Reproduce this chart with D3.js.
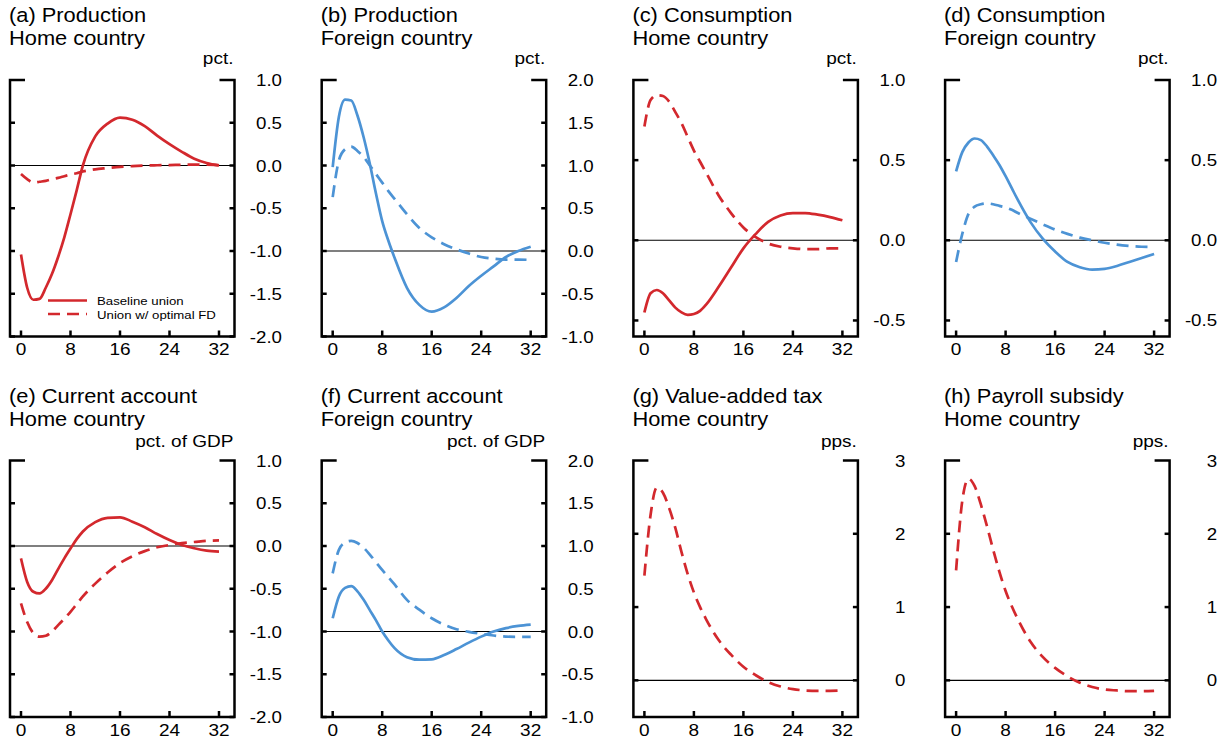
<!DOCTYPE html>
<html>
<head>
<meta charset="utf-8">
<script src="https://cdn.jsdelivr.net/npm/d3@7"></script>
<style>
  body { margin: 0; background: #fff; }
  text { font-family: "Liberation Sans", Arial, Helvetica, sans-serif; fill: #000; }
</style>
</head>
<body>
<div id="my_graphic"></div>
<script>
// quarters after the shock
const quarters = [0, 1, 2, 3, 4, 5, 6, 7, 8, 9, 10, 12, 14, 16, 18, 20, 22, 24, 26, 28, 30, 32];
const xTicks = [0, 8, 16, 24, 32];

// y tick labels
const ticksWide = [-2.0, -1.5, -1.0, -0.5, 0.0, 0.5, 1.0];
const ticksWideUp = [-1.0, -0.5, 0.0, 0.5, 1.0, 1.5, 2.0];
const ticksNarrow = [-0.5, 0.0, 0.5, 1.0];
const ticksPps = [0, 1, 2, 3];

// (a) production, home
const prodHomeBase = [-1.04, -1.43, -1.57, -1.56, -1.43, -1.27, -1.07, -0.84, -0.57, -0.29, 0.0, 0.34, 0.49, 0.56, 0.535, 0.46, 0.35, 0.25, 0.16, 0.08, 0.03, 0.0];
const prodHomeFD = [-0.10, -0.16, -0.20, -0.19, -0.18, -0.16, -0.145, -0.125, -0.105, -0.09, -0.07, -0.045, -0.03, -0.015, -0.008, 0.0, 0.003, 0.005, 0.008, 0.01, 0.01, 0.005];
// (b) production, foreign
const prodForBase = [0.98, 1.57, 1.77, 1.76, 1.585, 1.33, 1.02, 0.67, 0.35, 0.12, -0.08, -0.43, -0.63, -0.71, -0.66, -0.55, -0.41, -0.29, -0.18, -0.07, 0.0, 0.05];
const prodForFD = [0.63, 1.06, 1.19, 1.22, 1.17, 1.10, 1.0, 0.90, 0.80, 0.70, 0.61, 0.43, 0.27, 0.16, 0.08, 0.02, -0.03, -0.07, -0.09, -0.10, -0.10, -0.105];
// (c) consumption, home
const consHomeBase = [-0.45, -0.33, -0.31, -0.33, -0.375, -0.42, -0.45, -0.465, -0.46, -0.44, -0.40, -0.29, -0.17, -0.05, 0.04, 0.115, 0.155, 0.17, 0.17, 0.16, 0.145, 0.125];
const consHomeFD = [0.71, 0.875, 0.905, 0.90, 0.865, 0.80, 0.73, 0.645, 0.56, 0.49, 0.42, 0.28, 0.17, 0.08, 0.02, -0.02, -0.04, -0.05, -0.055, -0.055, -0.05, -0.05];
// (d) consumption, foreign
const consForBase = [0.43, 0.55, 0.61, 0.635, 0.625, 0.585, 0.53, 0.47, 0.40, 0.325, 0.25, 0.115, 0.01, -0.07, -0.135, -0.168, -0.183, -0.178, -0.16, -0.135, -0.11, -0.085];
const consForFD = [-0.135, 0.04, 0.165, 0.21, 0.225, 0.23, 0.225, 0.215, 0.205, 0.19, 0.17, 0.135, 0.10, 0.067, 0.04, 0.017, 0.0, -0.015, -0.027, -0.035, -0.04, -0.042];
// (e) current account, home
const caHomeBase = [-0.145, -0.42, -0.535, -0.555, -0.50, -0.40, -0.27, -0.145, -0.03, 0.08, 0.17, 0.28, 0.33, 0.335, 0.285, 0.22, 0.14, 0.07, 0.012, -0.027, -0.055, -0.066];
const caHomeFD = [-0.67, -0.89, -1.02, -1.06, -1.05, -1.0, -0.925, -0.85, -0.77, -0.68, -0.59, -0.44, -0.31, -0.20, -0.12, -0.06, -0.015, 0.012, 0.035, 0.047, 0.06, 0.065];
// (f) current account, foreign
const caForBase = [0.155, 0.41, 0.51, 0.53, 0.47, 0.37, 0.25, 0.13, 0.0, -0.105, -0.195, -0.30, -0.33, -0.325, -0.275, -0.205, -0.13, -0.06, 0.0, 0.04, 0.065, 0.08];
const caForFD = [0.68, 0.955, 1.04, 1.06, 1.035, 0.98, 0.90, 0.81, 0.72, 0.635, 0.55, 0.37, 0.255, 0.155, 0.08, 0.027, -0.004, -0.027, -0.047, -0.06, -0.063, -0.063];
// (g) value-added tax, (h) payroll subsidy
const vatFD = [1.43, 2.26, 2.63, 2.56, 2.35, 2.08, 1.75, 1.45, 1.20, 1.0, 0.83, 0.55, 0.35, 0.185, 0.07, -0.023, -0.083, -0.12, -0.138, -0.143, -0.143, -0.138];
const payrollFD = [1.50, 2.45, 2.75, 2.65, 2.40, 2.10, 1.78, 1.48, 1.22, 1.01, 0.83, 0.53, 0.32, 0.17, 0.055, -0.032, -0.09, -0.125, -0.138, -0.148, -0.148, -0.143];

const red = "#d3282d", blue = "#4c93d5";

const panels = [
    {title: "(a) Production", sub: "Home country", unit: "pct.", domain: [-2, 1], ticks: ticksWide, fmt: ".1f",
     lines: [{v: prodHomeBase, c: red}, {v: prodHomeFD, c: red, dash: true}], legend: true},
    {title: "(b) Production", sub: "Foreign country", unit: "pct.", domain: [-1, 2], ticks: ticksWideUp, fmt: ".1f",
     lines: [{v: prodForBase, c: blue}, {v: prodForFD, c: blue, dash: true}]},
    {title: "(c) Consumption", sub: "Home country", unit: "pct.", domain: [-0.6, 1], ticks: ticksNarrow, fmt: ".1f",
     lines: [{v: consHomeBase, c: red}, {v: consHomeFD, c: red, dash: true}]},
    {title: "(d) Consumption", sub: "Foreign country", unit: "pct.", domain: [-0.6, 1], ticks: ticksNarrow, fmt: ".1f",
     lines: [{v: consForBase, c: blue}, {v: consForFD, c: blue, dash: true}]},
    {title: "(e) Current account", sub: "Home country", unit: "pct. of GDP", domain: [-2, 1], ticks: ticksWide, fmt: ".1f",
     lines: [{v: caHomeBase, c: red}, {v: caHomeFD, c: red, dash: true}]},
    {title: "(f) Current account", sub: "Foreign country", unit: "pct. of GDP", domain: [-1, 2], ticks: ticksWideUp, fmt: ".1f",
     lines: [{v: caForBase, c: blue}, {v: caForFD, c: blue, dash: true}]},
    {title: "(g) Value-added tax", sub: "Home country", unit: "pps.", domain: [-0.5, 3], ticks: ticksPps, fmt: "d",
     lines: [{v: vatFD, c: red, dash: true}]},
    {title: "(h) Payroll subsidy", sub: "Home country", unit: "pps.", domain: [-0.5, 3], ticks: ticksPps, fmt: "d",
     lines: [{v: payrollFD, c: red, dash: true}]}
];

const W = 1228, H = 746;
const svg = d3.select("#my_graphic").append("svg")
    .attr("width", W).attr("height", H);

const sx = 1.12; // text in the picture is a little stretched sideways
function label(g, x, y, str, size, anchor) {
    return g.append("text")
        .attr("transform", `translate(${x},${y}) scale(${sx},1)`)
        .attr("text-anchor", anchor || "start")
        .style("font-size", size + "px")
        .text(str);
}

const boxW = 224.5, boxH = 256.5;
const rowTop = [80, 460.5];

panels.forEach((p, i) => {
    const col = i % 4, row = Math.floor(i / 4);
    const left = 10 + col * 311.7, right = left + boxW;
    const top = rowTop[row], bottom = top + boxH;
    const g = svg.append("g");

    const x = d3.scaleLinear().domain([0, 32]).range([left + 11, left + 209]);
    const y = d3.scaleLinear().domain(p.domain).range([bottom, top]);

    // titles
    label(g, left - 1, top - 58, p.title, 19.5);
    label(g, left - 1, top - 35, p.sub, 19.5);
    label(g, right - 1, top - (row ? 14 : 16), p.unit, 17, "end");

    // zero line
    g.append("line")
        .attr("x1", left).attr("x2", right)
        .attr("y1", y(0)).attr("y2", y(0))
        .attr("stroke", "#000").attr("stroke-width", 1.1);

    // curves
    const line = d3.line()
        .x((d, j) => x(quarters[j]))
        .y(d => y(d))
        .curve(d3.curveMonotoneX);
    p.lines.forEach(s => {
        g.append("path")
            .datum(s.v)
            .attr("d", line)
            .attr("fill", "none")
            .attr("stroke", s.c)
            .attr("stroke-width", 2.7)
            .attr("stroke-dasharray", s.dash ? "12,7" : null);
    });

    // frame: left, right and bottom lines, stubs at the top
    const frame = g.append("g").attr("stroke", "#000").attr("stroke-width", 2.5).attr("fill", "none");
    frame.append("path")
        .attr("d", `M${left + 15},${top}H${left}V${bottom}H${right}V${top}H${right - 15}`);

    // y ticks on both sides, labels on the right (plain hyphen as minus)
    const fmt = d3.format(p.fmt);
    p.ticks.forEach(t => {
        const ty = y(t);
        if (t !== p.domain[1]) {
            frame.append("line").attr("x1", left).attr("x2", left + 5).attr("y1", ty).attr("y2", ty);
            frame.append("line").attr("x1", right - 5).attr("x2", right).attr("y1", ty).attr("y2", ty);
        }
        label(g, right + 47.5, ty + 6, fmt(t).replace("\u2212", "-"), 16.7, "end");
    });

    // x ticks
    xTicks.forEach(t => {
        frame.append("line").attr("x1", x(t)).attr("x2", x(t)).attr("y1", bottom).attr("y2", bottom - 6);
        label(g, x(t), bottom + 18.5, t, 17, "middle");
    });

    // legend
    if (p.legend) {
        const items = [{name: "Baseline union", dash: false}, {name: "Union w/ optimal FD", dash: true}];
        items.forEach((it, k) => {
            const ly = bottom - 36 + k * 13.5;
            g.append("line")
                .attr("x1", left + 38).attr("x2", left + 77)
                .attr("y1", ly).attr("y2", ly)
                .attr("stroke", red).attr("stroke-width", 2.7)
                .attr("stroke-dasharray", it.dash ? "12,7" : null);
            label(g, left + 87, ly + 4.5, it.name, 11.8);
        });
    }
});
</script>
</body>
</html>
